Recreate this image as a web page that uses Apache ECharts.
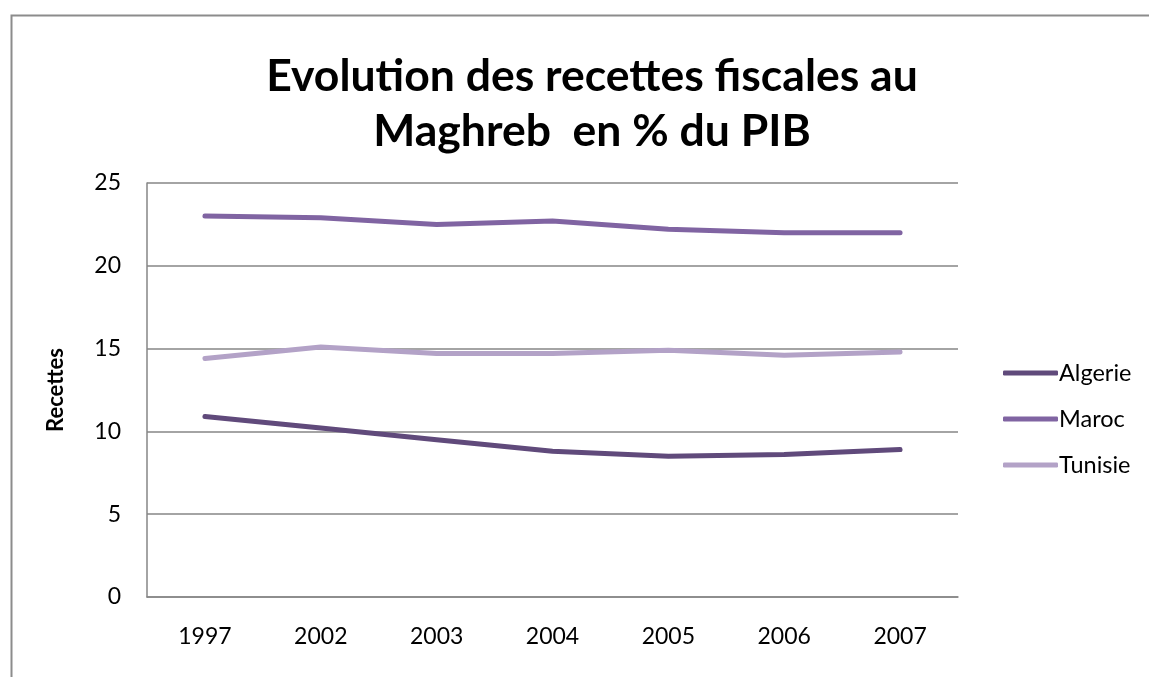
<!DOCTYPE html>
<html>
<head>
<meta charset="utf-8">
<script src="https://cdn.jsdelivr.net/npm/echarts@6/dist/echarts.min.js"></script>
<style>
  html, body { margin: 0; padding: 0; background: #fff; overflow: hidden; }
  #chart { width: 1149px; height: 677px; }
</style>
</head>
<body>
<div id="chart"></div>
<script>
// donnees
const years = ['1997', '2002', '2003', '2004', '2005', '2006', '2007'];
const algerie = [10.9, 10.2, 9.5, 8.8, 8.5, 8.6, 8.9];
const maroc = [23.0, 22.9, 22.5, 22.7, 22.2, 22.0, 22.0];
const tunisie = [14.4, 15.1, 14.7, 14.7, 14.9, 14.6, 14.8];
const seriesNames = ['Algerie', 'Maroc', 'Tunisie'];
const colors = ['#604a7b', '#8064a2', '#b3a2c7'];

let myChart = echarts.init(document.getElementById('chart'));
let font = 'Lato, "Open Sans", sans-serif';

function line(name, data, color) {
  return {
    name: name,
    type: 'line',
    data: data,
    symbol: 'none',
    lineStyle: { width: 5, color: color, cap: 'round', join: 'round' },
    itemStyle: { color: color }
  };
}

let option = {
  animation: false,
  // cadre du graphique (bords gauche et haut visibles)
  graphic: [{
    type: 'rect',
    left: 9,
    top: 13,
    shape: { width: 1300, height: 800 },
    style: { fill: 'none', stroke: '#8c8c8c', lineWidth: 2 },
    silent: true
  }],
  title: {
    text: 'Evolution des recettes fiscales au\nMaghreb  en % du PIB',
    left: 587,
    textAlign: 'center',
    top: 44,
    textStyle: {
      fontFamily: font,
      fontSize: 44.5,
      fontWeight: 'bold',
      color: '#000',
      lineHeight: 55
    }
  },
  legend: {
    orient: 'vertical',
    left: 998,
    top: 356,
    itemWidth: 55,
    itemHeight: 5,
    itemGap: 22,
    icon: 'roundRect',
    data: seriesNames,
    textStyle: { fontFamily: font, fontSize: 23.5, color: '#000', padding: [0, 0, 0, -4] }
  },
  grid: {
    left: 147,
    right: 191,
    top: 183,
    bottom: 80
  },
  xAxis: {
    type: 'category',
    data: years,
    axisLine: { lineStyle: { color: '#868686', width: 1.5 } },
    axisTick: { show: false },
    axisLabel: { fontFamily: font, fontSize: 23, color: '#000', margin: 28 }
  },
  yAxis: {
    type: 'value',
    min: 0,
    max: 25,
    interval: 5,
    name: 'Recettes',
    nameLocation: 'middle',
    nameGap: 80,
    nameTextStyle: { fontFamily: font, fontSize: 22, fontWeight: 'bold', color: '#000' },
    axisLine: { show: true, lineStyle: { color: '#868686', width: 1.5 } },
    axisTick: { show: false },
    splitLine: { lineStyle: { color: '#868686', width: 1.5 } },
    axisLabel: { fontFamily: font, fontSize: 23, color: '#000', margin: 26 }
  },
  series: [
    line(seriesNames[0], algerie, colors[0]),
    line(seriesNames[1], maroc, colors[1]),
    line(seriesNames[2], tunisie, colors[2])
  ]
};
myChart.setOption(option);
</script>
</body>
</html>
